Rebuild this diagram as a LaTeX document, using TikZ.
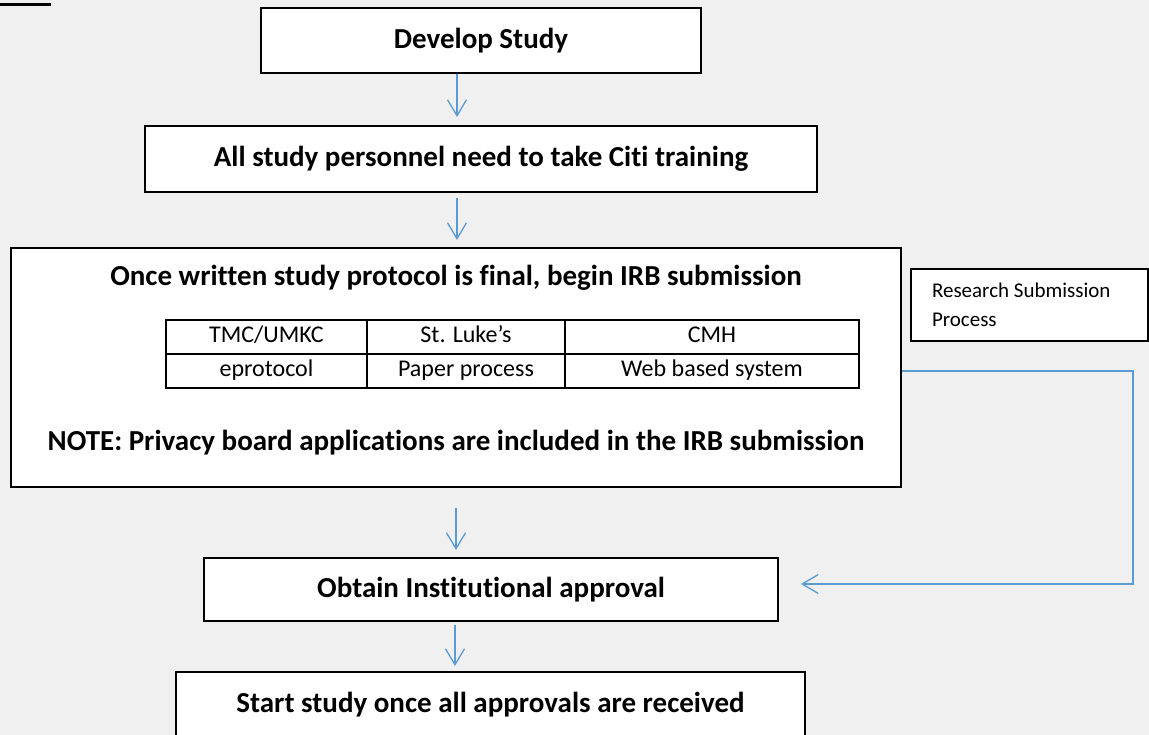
\documentclass[tikz,border=0pt]{standalone}
\usepackage{fontspec}
\setmainfont{Carlito}[Ligatures={NoCommon,NoContextual}]
\usetikzlibrary{arrows.meta, calc}
\definecolor{flowblue}{HTML}{5B9BD5}
\definecolor{pagegray}{HTML}{F0F0F0}

\begin{document}
\begin{tikzpicture}[x=1pt, y=-1pt,
  box/.style={draw, line width=2pt, fill=white, inner sep=0pt},
  head/.style={font=\fontsize{29}{35}\selectfont\bfseries},
  cell/.style={draw, line width=1.5pt, inner sep=0pt, minimum height=34pt,
    text height=16pt, text depth=5pt, font=\fontsize{24}{28}\selectfont},
  flow/.style={draw=flowblue, line width=1.3pt,
    -{Straight Barb[length=16pt, width=19pt]}}]
  \useasboundingbox (0,0) rectangle (1149,735);
  \clip (0,0) rectangle (1149,735);
  \fill[pagegray] (0,0) rectangle (1149,735);
  \draw[line width=3pt] (0,5) -- (51,5);

  % main column
  \node[box, head, minimum width=440pt, minimum height=65pt] (dev) at (481,40.5) {Develop Study};
  \node[box, head, minimum width=672pt, minimum height=66pt] (citi) at (481,159) {All study personnel need to take Citi training};
  \node[box, minimum width=890pt, minimum height=239pt] (irb) at (456,367.5) {};
  \node[head] (irbtitle) at (456,278) {Once written study protocol is final, begin IRB submission};

  % sites table
  \node[cell, minimum width=201pt] (tmc) at (266.5,337) {TMC/UMKC};
  \node[cell, minimum width=198pt] (luke) at (466,337) {St. Luke’s};
  \node[cell, minimum width=294pt] (cmh) at (712,337) {CMH};
  \node[cell, minimum width=201pt] (eprot) at (266.5,371) {eprotocol};
  \node[cell, minimum width=198pt] (paper) at (466,371) {Paper process};
  \node[cell, minimum width=294pt] (web) at (712,371) {Web based system};

  \node[head] (note) at (456,443) {NOTE: Privacy board applications are included in the IRB submission};

  \node[box, minimum width=237pt, minimum height=72pt, text width=195pt, align=flush left,
    font=\fontsize{21}{29}\selectfont] (rsp) at (1029.5,305) {Research Submission\\Process};

  \node[box, head, minimum width=574pt, minimum height=63pt] (obtain) at (491,589.5) {Obtain Institutional approval};
  \node[box, head, minimum width=629pt, minimum height=66pt] (start) at (490.5,705) {Start study once all approvals are received};

  % arrows
  \coordinate (spine) at (457,0);
  \coordinate (elbow) at (1133,371);
  \draw[flow, shorten >=8pt] (dev.south -| spine) -- (citi.north -| spine);
  \draw[flow, shorten <=5pt, shorten >=7pt] (citi.south -| spine) -- (irb.north -| spine);
  \draw[flow, shorten <=20pt, shorten >=7pt] ([xshift=-1pt]irb.south -| spine) -- ([xshift=-1pt]obtain.north -| spine);
  \draw[flow, shorten <=3pt, shorten >=5pt] ([xshift=-2pt]obtain.south -| spine) -- ([xshift=-2pt]start.north -| spine);
  \draw[flow, shorten >=22pt] (irb.east |- elbow) -- (elbow) |- ([yshift=5.5pt]obtain.east);
\end{tikzpicture}
\end{document}
